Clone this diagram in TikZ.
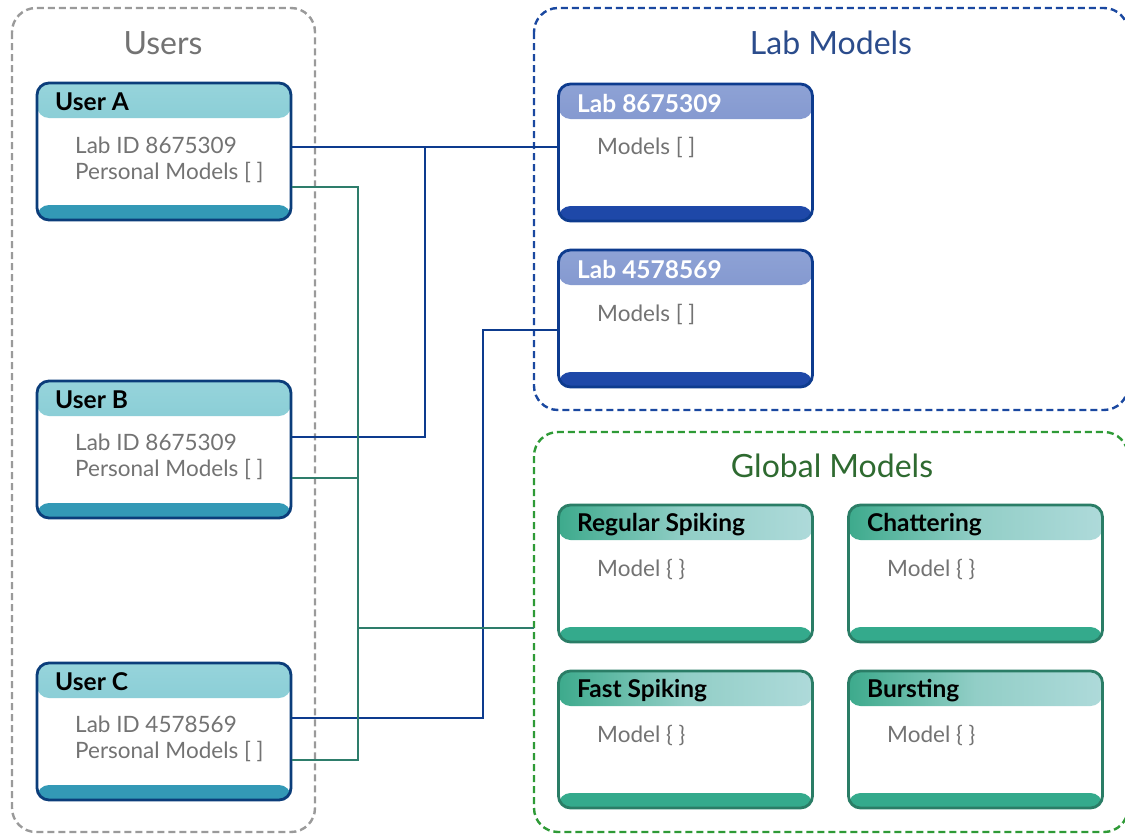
\documentclass[tikz,border=0pt]{standalone}
\usepackage{fontspec}
\setmainfont{Lato}
\definecolor{navy}{HTML}{0D3B8E}
\definecolor{uborder}{HTML}{0B3D7A}
\definecolor{uhtop}{HTML}{96D4DB}
\definecolor{uhbot}{HTML}{6CBDC9}
\definecolor{ubar}{HTML}{3399B6}
\definecolor{lhtop}{HTML}{8EA2D5}
\definecolor{lhbot}{HTML}{6A80C2}
\definecolor{lbar}{HTML}{1E48A8}
\definecolor{gborder}{HTML}{2A7D66}
\definecolor{ghleft}{HTML}{3DAA8C}
\definecolor{ghright}{HTML}{AEDADA}
\definecolor{gbar}{HTML}{34AA8C}
\definecolor{gline}{HTML}{2E7D6B}
\definecolor{bodytext}{HTML}{737373}
\definecolor{graydash}{HTML}{9A9A9A}
\definecolor{bluedash}{HTML}{1A48A0}
\definecolor{greendash}{HTML}{2E9A36}
\definecolor{labtitle}{HTML}{2B4C8C}
\definecolor{globtitle}{HTML}{2E6A30}
\begin{document}
\begin{tikzpicture}[x=1pt,y=-1pt,
  container/.style={rounded corners=24pt, line width=2.4pt, dash pattern=on 7pt off 4pt},
  boxbase/.style={rectangle, rounded corners=12pt, line width=2.8pt, minimum width=254pt, minimum height=137pt, inner sep=0pt},
  ubox/.style={boxbase, draw=uborder, fill=white, path picture={
    \shade[top color=uhtop, bottom color=uhbot] (path picture bounding box.north west) rectangle ([yshift=-35pt]path picture bounding box.north east);
    \fill[ubar] (path picture bounding box.south west) rectangle ([yshift=15pt]path picture bounding box.south east);}},
  lbox/.style={boxbase, draw=navy, fill=white, path picture={
    \shade[top color=lhtop, bottom color=lhbot] (path picture bounding box.north west) rectangle ([yshift=-35pt]path picture bounding box.north east);
    \fill[lbar] (path picture bounding box.south west) rectangle ([yshift=15pt]path picture bounding box.south east);}},
  gbox/.style={boxbase, draw=gborder, fill=white, path picture={
    \shade[left color=ghleft, right color=ghright, middle color=ghright!75!ghleft] (path picture bounding box.north west) rectangle ([yshift=-35pt]path picture bounding box.north east);
    \fill[gbar] (path picture bounding box.south west) rectangle ([yshift=15pt]path picture bounding box.south east);}},
  title/.style={font=\fontsize{32}{34}\selectfont, anchor=center},
  head/.style={font=\bfseries\fontsize{24.5}{26}\selectfont, anchor=west, inner sep=0pt},
  body/.style={font=\fontsize{22.5}{26}\selectfont, text=bodytext, anchor=west, inner sep=0pt, align=left},
  blueline/.style={draw=navy, line width=2.8pt},
  greenline/.style={draw=gline, line width=2.8pt}
]
\useasboundingbox (0,0) rectangle (1125,835);
\fill[white] (0,0) rectangle (1125,835);
\begin{scope}
\clip (0,0) rectangle (1125,835);
\draw[container, draw=graydash] (12,8) rectangle (315,832);
\draw[container, draw=bluedash] (534,8) rectangle (1128,410);
\draw[container, draw=greendash] (534,432) rectangle (1128,832);
\end{scope}
\node[title, text=bodytext] (tusers) at (163,43) {Users};
\node[title, text=labtitle] (tlab) at (831,43) {Lab Models};
\node[title, text=globtitle] (tglob) at (832,466) {Global Models};

% user boxes
\node[ubox] (ua) at (164,151.5) {};
\node[ubox] (ub) at (164,449.5) {};
\node[ubox] (uc) at (164,731.5) {};
\node[head] (uah) at (55,102) {User A};
\node[head] (ubh) at (55,400) {User B};
\node[head] (uch) at (55,682) {User C};
\node[body] (uat) at (75,160) {Lab ID 8675309\\Personal Models [ ]};
\node[body] (ubt) at (75,457) {Lab ID 8675309\\Personal Models [ ]};
\node[body] (uct) at (75,739) {Lab ID 4578569\\Personal Models [ ]};

% lab boxes
\node[lbox] (la) at (685.5,152.5) {};
\node[lbox] (lb) at (685.5,318.5) {};
\node[head, text=white] (lah) at (577,103) {Lab 8675309};
\node[head, text=white] (lbh) at (577,269) {Lab 4578569};
\node[body] (lat) at (597,148) {Models [ ]};
\node[body] (lbt) at (597,314) {Models [ ]};

% global boxes
\node[gbox] (g1) at (685.5,573.5) {};
\node[gbox] (g2) at (975.5,573.5) {};
\node[gbox] (g3) at (685.5,739.5) {};
\node[gbox] (g4) at (975.5,739.5) {};
\node[head] (g1h) at (577,525) {Regular Spiking};
\node[head] (g2h) at (867,525) {Chattering};
\node[head] (g3h) at (577,691) {Fast Spiking};
\node[head] (g4h) at (867,691) {Bursting};
\node[body] (g1t) at (597,569) {Model \{ \}};
\node[body] (g2t) at (887,569) {Model \{ \}};
\node[body] (g3t) at (597,735) {Model \{ \}};
\node[body] (g4t) at (887,735) {Model \{ \}};

% connectors
\coordinate (gjoin) at (534,628);
\draw[blueline] (ua.east |- 0,147) -- (la.west |- 0,147);
\draw[blueline] (ub.east |- 0,437) -| (425,147);
\draw[blueline] (uc.east |- 0,718) -| (483,330) -- (lb.west |- 0,330);
\draw[greenline] (ua.east |- 0,187) -| (358,760) -- (uc.east |- 0,760);
\draw[greenline] (ub.east |- 0,478) -- (358,478);
\draw[greenline] (358,628) -- (gjoin);
\end{tikzpicture}
\end{document}
